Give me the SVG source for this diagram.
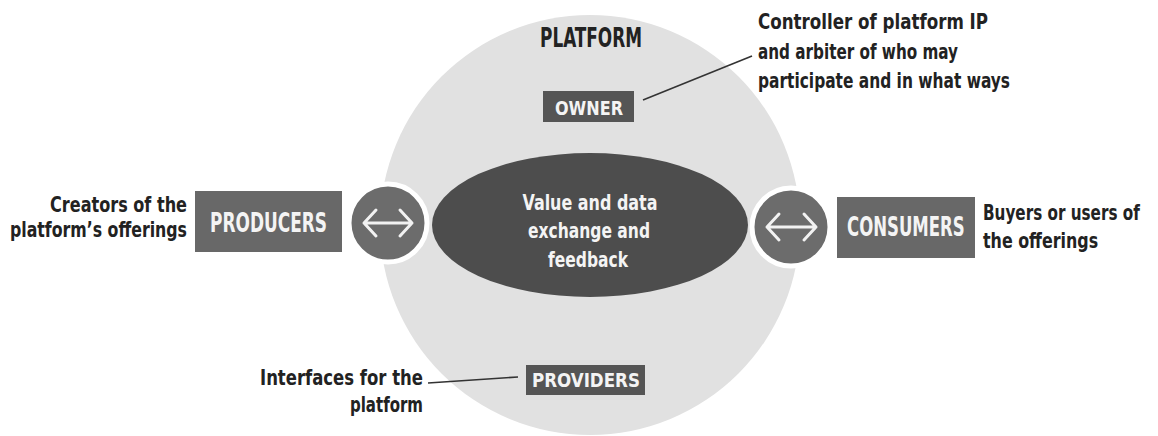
<svg xmlns="http://www.w3.org/2000/svg" width="1158" height="436" viewBox="0 0 1158 436">
<style>
  .lbl { font-family: "DejaVu Sans", "Liberation Sans", sans-serif; font-stretch: condensed; font-weight: bold; fill: #222; }
  .wht { font-family: "DejaVu Sans", "Liberation Sans", sans-serif; font-stretch: condensed; font-weight: bold; fill: #f4f4f4; }
  .box { fill: #686868; }
  .tag { fill: #555; }
  .hub { fill: #6c6c6c; stroke: #fff; stroke-width: 5; }
  .arr { fill: none; stroke: #f2f2f2; stroke-width: 3; stroke-linecap: round; stroke-linejoin: round; }
  .lead { stroke: #333; stroke-width: 1.6; fill: none; }
</style>
<rect width="1158" height="436" fill="#ffffff"/>
<g id="platform">
  <circle cx="590" cy="225" r="210" fill="#e1e1e1"/>
  <text class="lbl" x="540" y="47" font-size="26" textLength="102" lengthAdjust="spacingAndGlyphs">PLATFORM</text>
</g>
<g id="exchange">
  <ellipse cx="590" cy="225" rx="158" ry="72" fill="#4d4d4d"/>
  <text class="wht" x="590" y="210" font-size="21" text-anchor="middle" textLength="135" lengthAdjust="spacingAndGlyphs">Value and data</text>
  <text class="wht" x="589" y="238" font-size="21" text-anchor="middle" textLength="122" lengthAdjust="spacingAndGlyphs">exchange and</text>
  <text class="wht" x="588" y="267" font-size="21" text-anchor="middle" textLength="80" lengthAdjust="spacingAndGlyphs">feedback</text>
</g>
<g id="owner">
  <rect class="tag" x="543" y="91" width="91" height="31"/>
  <text class="wht" x="555" y="115" font-size="20" textLength="68" lengthAdjust="spacingAndGlyphs">OWNER</text>
</g>
<g id="providers">
  <rect class="tag" x="526" y="365" width="119" height="30"/>
  <text class="wht" x="532" y="387" font-size="19" textLength="108" lengthAdjust="spacingAndGlyphs">PROVIDERS</text>
</g>
<g id="producers">
  <rect class="box" x="195" y="191" width="147" height="61"/>
  <text class="wht" transform="translate(210 232) scale(0.75 1)" x="0" y="0" font-size="27" textLength="156" lengthAdjust="spacingAndGlyphs">PRODUCERS</text>
</g>
<g id="consumers">
  <rect class="box" x="837" y="197" width="138" height="61"/>
  <text class="wht" transform="translate(847 236) scale(0.75 1)" x="0" y="0" font-size="26" textLength="157" lengthAdjust="spacingAndGlyphs">CONSUMERS</text>
</g>
<g id="hub-left">
  <circle class="hub" cx="388" cy="223" r="39"/>
  <path class="arr" d="M364 223 H412 M376 210 L364 223 L376 236 M400 210 L412 223 L400 236"/>
</g>
<g id="hub-right">
  <circle class="hub" cx="791" cy="227" r="39"/>
  <path class="arr" d="M767 227 H816 M779 214 L767 227 L779 240 M804 214 L816 227 L804 240"/>
</g>
<g id="desc-producers">
  <text class="lbl" x="187" y="212" font-size="21" text-anchor="end" textLength="137" lengthAdjust="spacingAndGlyphs">Creators of the</text>
  <text class="lbl" x="187" y="237" font-size="21" text-anchor="end" textLength="177" lengthAdjust="spacingAndGlyphs">platform’s offerings</text>
</g>
<g id="desc-consumers">
  <text class="lbl" transform="translate(983 220) scale(0.8 1)" x="0" y="0" font-size="21" textLength="196" lengthAdjust="spacingAndGlyphs">Buyers or users of</text>
  <text class="lbl" transform="translate(983 248) scale(0.8 1)" x="0" y="0" font-size="21" textLength="144" lengthAdjust="spacingAndGlyphs">the offerings</text>
</g>
<g id="desc-owner">
  <text class="lbl" x="758" y="29" font-size="21" textLength="230" lengthAdjust="spacingAndGlyphs">Controller of platform IP</text>
  <text class="lbl" x="758" y="59" font-size="21" textLength="200" lengthAdjust="spacingAndGlyphs">and arbiter of who may</text>
  <text class="lbl" x="758" y="88" font-size="21" textLength="252" lengthAdjust="spacingAndGlyphs">participate and in what ways</text>
</g>
<g id="desc-providers">
  <text class="lbl" x="423" y="385" font-size="21" text-anchor="end" textLength="163" lengthAdjust="spacingAndGlyphs">Interfaces for the</text>
  <text class="lbl" x="423" y="412" font-size="21" text-anchor="end" textLength="73" lengthAdjust="spacingAndGlyphs">platform</text>
</g>
<g id="connectors">
  <line class="lead" x1="643" y1="100" x2="752" y2="56"/>
  <line class="lead" x1="428" y1="383" x2="518" y2="377"/>
</g>
</svg>
